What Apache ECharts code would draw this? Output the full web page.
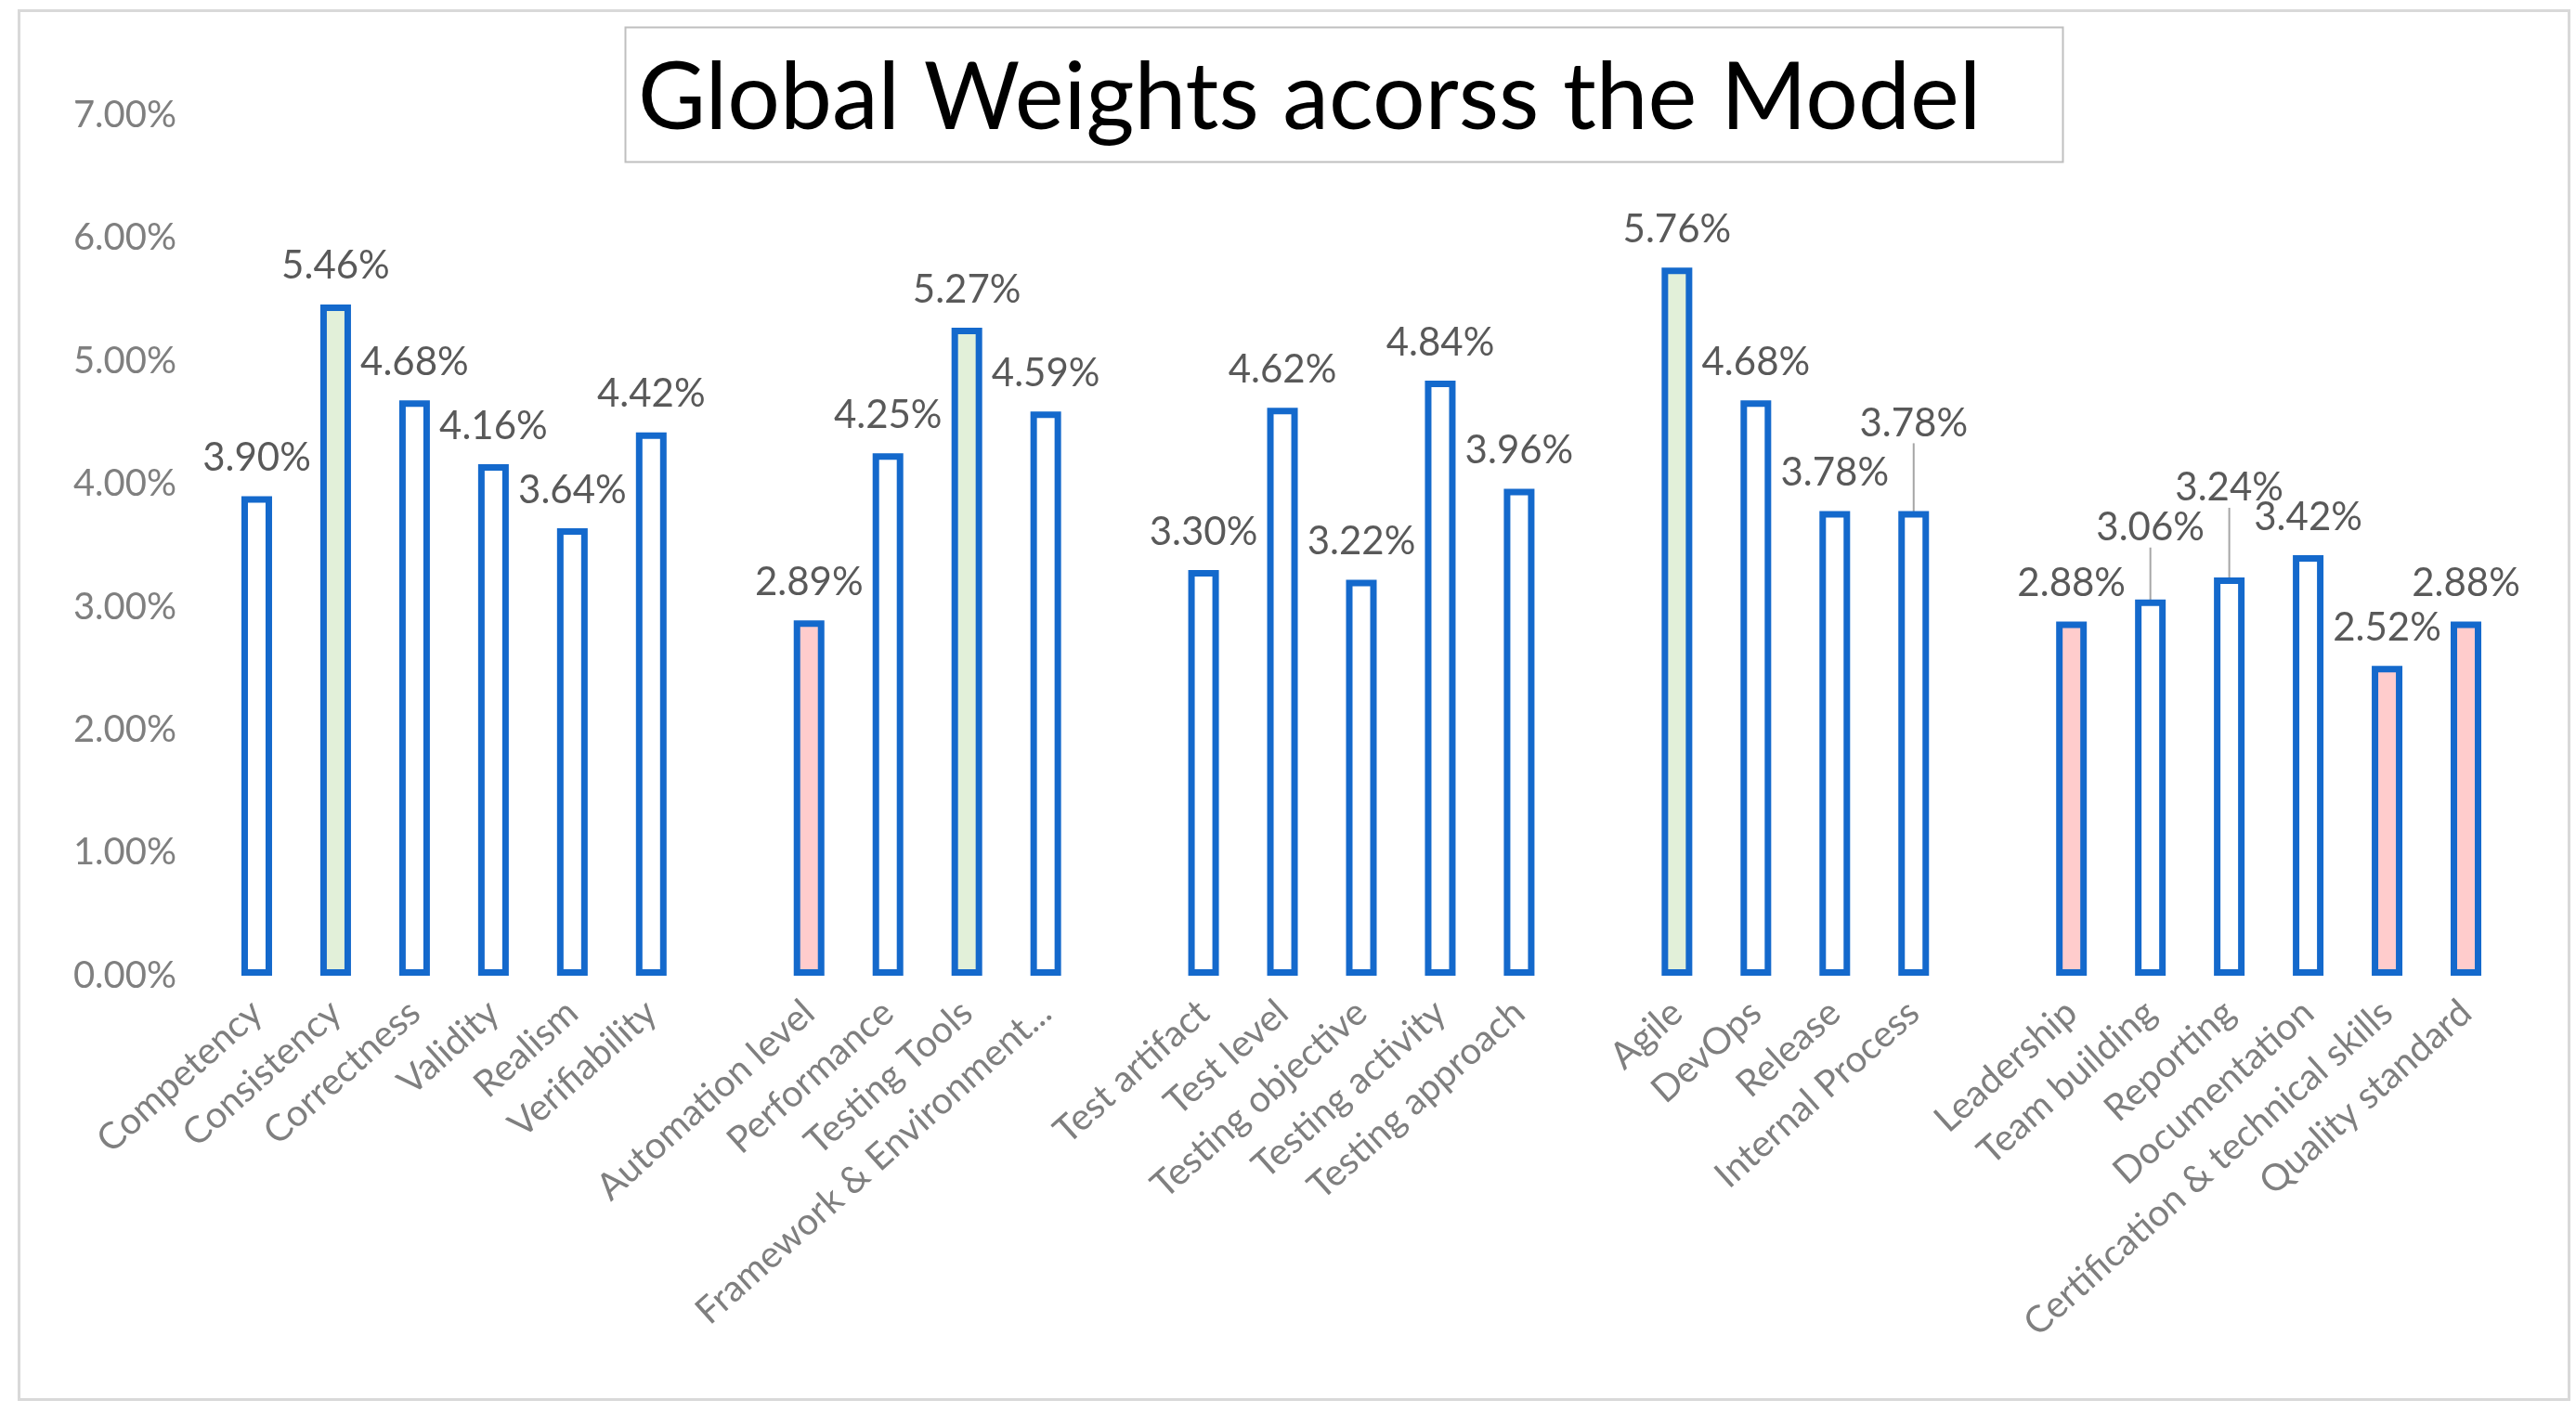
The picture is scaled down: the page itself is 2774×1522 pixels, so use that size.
<!DOCTYPE html>
<html>
<head>
<meta charset="utf-8">
<script src="https://cdn.jsdelivr.net/npm/echarts@6/dist/echarts.min.js"></script>
<style>
  html, body { margin: 0; padding: 0; background: #ffffff; }
  #chart { width: 2774px; height: 1522px; }
</style>
</head>
<body>
<div id="chart"></div>
<script>
// ---- data ----
const categories = [
  'Competency', 'Consistency', 'Correctness', 'Validity', 'Realism', 'Verifiability', '',
  'Automation level', 'Performance', 'Testing Tools', 'Framework & Environment...', '',
  'Test artifact', 'Test level', 'Testing objective', 'Testing activity', 'Testing approach', '',
  'Agile', 'DevOps', 'Release', 'Internal Process', '',
  'Leadership', 'Team building', 'Reporting', 'Documentation', 'Certification & technical skills', 'Quality standard'
];
const weights = [
  3.90, 5.46, 4.68, 4.16, 3.64, 4.42, null,
  2.89, 4.25, 5.27, 4.59, null,
  3.30, 4.62, 3.22, 4.84, 3.96, null,
  5.76, 4.68, 3.78, 3.78, null,
  2.88, 3.06, 3.24, 3.42, 2.52, 2.88
];
const highestInGroup = ['Consistency', 'Testing Tools', 'Agile'];
const lowestInGroup = ['Automation level', 'Leadership', 'Certification & technical skills', 'Quality standard'];
const yTicks = [0, 1, 2, 3, 4, 5, 6, 7];

// ---- styling (not data) ----
const BLUE = '#1469cc';
const GREEN_FILL = '#e2f0d9';
const PINK_FILL = '#ffcccc';
const liftedLabels = { 'Internal Process': 53, 'Team building': 36, 'Reporting': 55 };

const seriesData = weights.map((v, i) => {
  const name = categories[i];
  let fill = '#ffffff';
  if (highestInGroup.includes(name)) fill = GREEN_FILL;
  if (lowestInGroup.includes(name)) fill = PINK_FILL;
  const item = { value: v == null ? '-' : v, itemStyle: { color: fill } };
  if (liftedLabels[name]) {
    item.labelLine = { show: true, lineStyle: { color: '#a6a6a6', width: 2 } };
  }
  return item;
});

const chart = echarts.init(document.getElementById('chart'));
chart.setOption({
  backgroundColor: '#ffffff',
  animation: false,
  title: {
    text: 'Global Weights acorss the Model',
    left: 682,
    top: 52,
    textStyle: { fontFamily: 'Lato', fontSize: 100, fontWeight: 'normal', color: '#000000' }
  },
  graphic: [
    { type: 'rect', left: 18, top: 9, shape: { width: 2746, height: 1496 },
      style: { fill: 'none', stroke: '#d9d9d9', lineWidth: 3 }, silent: true, z: -1 },
    { type: 'rect', left: 671, top: 27, shape: { width: 1548, height: 145 },
      style: { fill: 'none', stroke: '#bfbfbf', lineWidth: 2 }, silent: true, z: -1 }
  ],
  grid: { left: 234, right: 76, top: 124, bottom: 471, containLabel: false },
  xAxis: {
    type: 'category',
    data: categories,
    axisLine: { show: false },
    axisTick: { show: false },
    axisLabel: {
      interval: 0, rotate: 42, margin: 34,
      fontFamily: 'Lato', fontSize: 40, color: '#7f7f7f'
    }
  },
  yAxis: {
    type: 'value',
    min: yTicks[0], max: yTicks[yTicks.length - 1], interval: 1,
    splitLine: { show: false },
    axisLine: { show: false },
    axisTick: { show: false },
    axisLabel: {
      margin: 44,
      fontFamily: 'Lato', fontSize: 40, color: '#7f7f7f',
      formatter: v => v.toFixed(2) + '%'
    }
  },
  series: [{
    type: 'bar',
    data: seriesData,
    barWidth: 33,
    itemStyle: { borderColor: BLUE, borderWidth: 7 },
    label: {
      show: true, position: 'top', distance: 20,
      fontFamily: 'Lato', fontSize: 42, color: '#595959',
      formatter: p => p.value.toFixed(2) + '%'
    },
    labelLayout: params => {
      const name = categories[params.dataIndex];
      if (liftedLabels[name]) return { dy: -liftedLabels[name] };
      return {};
    },
    labelLine: { show: false, lineStyle: { color: '#a6a6a6', width: 2 } }
  }]
});
</script>
</body>
</html>
